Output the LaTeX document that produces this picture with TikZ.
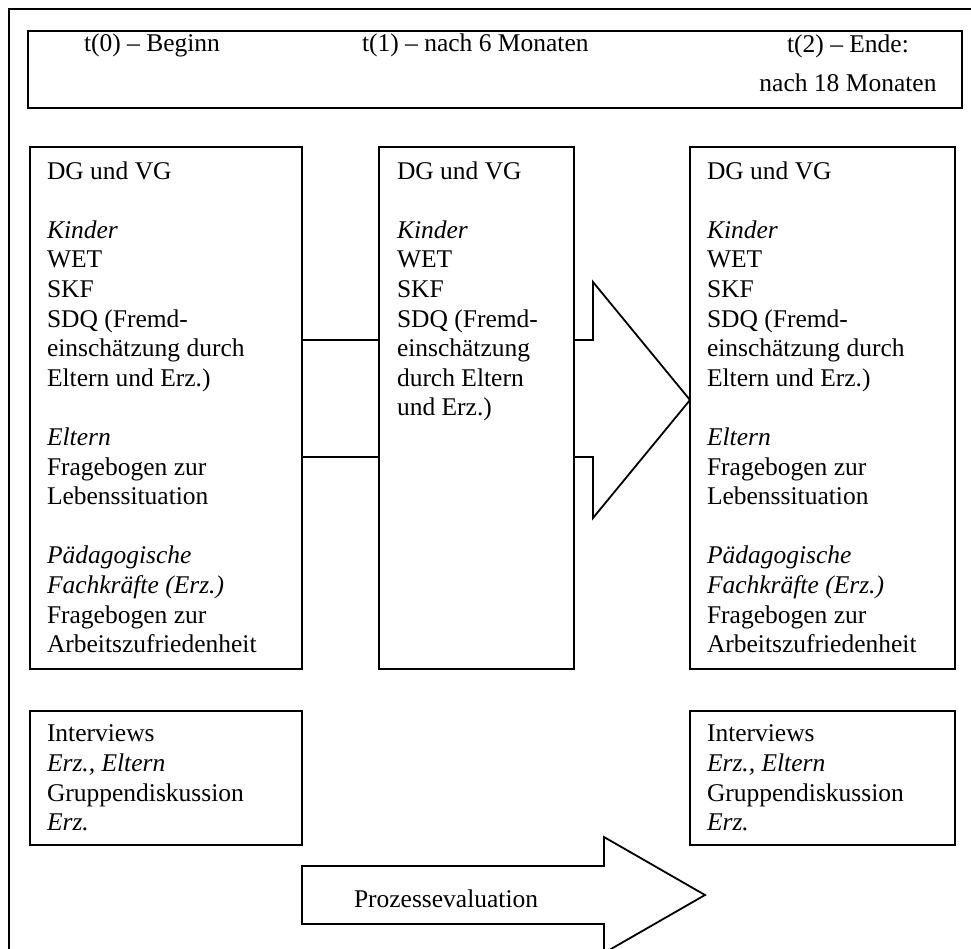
\documentclass[tikz,border=0pt]{standalone}
\usepackage{fontspec}
\setmainfont{Liberation Serif}

\begin{document}
\begin{tikzpicture}[x=1pt,y=-1pt,line width=1.8pt]
        \tikzstyle{box}=[draw,inner sep=0pt,outer sep=0pt,anchor=north west]
        \tikzstyle{txt}=[inner sep=0pt,outer sep=0pt,anchor=north west,align=left,font=\fontsize{25.5}{29.6}\selectfont]
        \useasboundingbox (0,0) rectangle (971,949);
        \clip (0,0) rectangle (971,949);
        \draw [line width=2.4pt] (9,960) -- (9,9) -- (980,9);
        % time points
        \node [box,minimum width=934pt,minimum height=77pt] (head) at (28,31) {};
        \node [txt,anchor=base west] (t0) at (84,52) {t(0) -- Beginn};
        \node [txt,anchor=base west] (t1) at (362,52) {t(1) -- nach 6 Monaten};
        \node [txt,anchor=north,align=center,font=\fontsize{25.5}{39}\selectfont] (t2) at (848,34.5) {t(2) -- Ende:\\nach 18 Monaten};
        % measurement boxes
        \node [box,minimum width=272pt,minimum height=522pt] (lbox) at (30,147) {};
        \node [box,minimum width=195pt,minimum height=522pt] (mbox) at (379,147) {};
        \node [box,minimum width=265pt,minimum height=522pt] (rbox) at (690,147) {};
        \node [txt] (ltext) at (47,161.5) {DG und VG\\[29.6pt]\textit{Kinder}\\WET\\SKF\\SDQ (Fremd-\\einschätzung durch\\Eltern und Erz.)\\[29.6pt]\textit{Eltern}\\Fragebogen zur\\Lebenssituation\\[29.6pt]\textit{Pädagogische}\\\textit{Fachkräfte (Erz.)}\\Fragebogen zur\\Arbeitszufriedenheit};
        \node [txt] (mtext) at (397,161.5) {DG und VG\\[29.6pt]\textit{Kinder}\\WET\\SKF\\SDQ (Fremd-\\einschätzung\\durch Eltern\\und Erz.)};
        \node [txt] (rtext) at (707,161.5) {DG und VG\\[29.6pt]\textit{Kinder}\\WET\\SKF\\SDQ (Fremd-\\einschätzung durch\\Eltern und Erz.)\\[29.6pt]\textit{Eltern}\\Fragebogen zur\\Lebenssituation\\[29.6pt]\textit{Pädagogische}\\\textit{Fachkräfte (Erz.)}\\Fragebogen zur\\Arbeitszufriedenheit};
        \draw (lbox.east |- 0,340) -- (mbox.west |- 0,340);
        \draw (lbox.east |- 0,457) -- (mbox.west |- 0,457);
        \draw (mbox.east |- 0,340) -- (593,340) -- (593,282) -- (rbox.west |- 0,400) -- (593,518) -- (593,457) -- (mbox.east |- 0,457);
        % qualitative part
        \node [box,minimum width=272pt,minimum height=134pt] (libox) at (30,711) {};
        \node [box,minimum width=265pt,minimum height=134pt] (ribox) at (690,711) {};
        \node [txt] (litext) at (47,725) {Interviews\\\textit{Erz., Eltern}\\Gruppendiskussion\\\textit{Erz.}};
        \node [txt] (ritext) at (707,725) {Interviews\\\textit{Erz., Eltern}\\Gruppendiskussion\\\textit{Erz.}};
        \draw (libox.south east |- 0,866) -- (604,866) -- (604,837) -- (705,895) -- (604,953) -- (604,924) -- (libox.south east |- 0,924) -- cycle;
        \node [txt,anchor=base west] (proc) at (354,907) {Prozessevaluation};
\end{tikzpicture}
\end{document}
